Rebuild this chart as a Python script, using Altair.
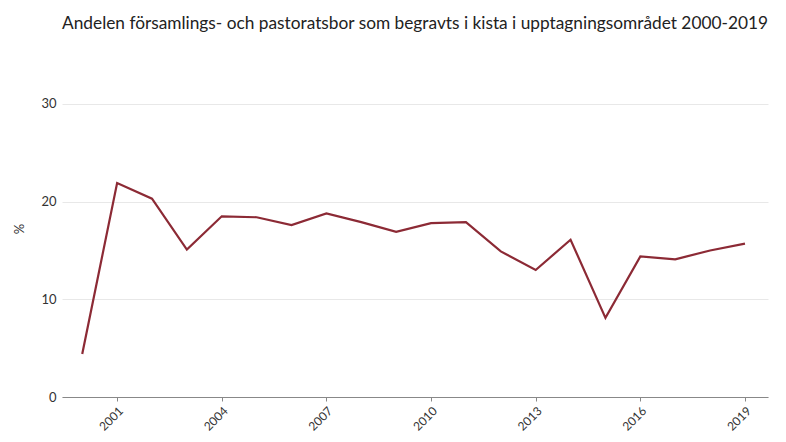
import altair as alt
import pandas as pd

years = list(range(2000, 2020))
values = [4.4, 21.9, 20.3, 15.1, 18.5, 18.4, 17.6, 18.8, 17.9, 16.9,
          17.8, 17.9, 14.9, 13.0, 16.1, 8.1, 14.4, 14.1, 15.0, 15.7]
tick_years = [2001, 2004, 2007, 2010, 2013, 2016, 2019]
y_ticks = [0, 10, 20, 30]
title_text = "Andelen församlings- och pastoratsbor som begravts i kista i upptagningsområdet 2000-2019"

df = pd.DataFrame({"year": years, "value": values})

FONT = "Lato"

chart = alt.Chart(df).mark_line(color="#8c2a35", strokeWidth=2.2).encode(
    x=alt.X("year:Q",
            scale=alt.Scale(domain=[1999.42, 2019.66], nice=False, zero=False),
            axis=alt.Axis(values=tick_years, format="d", title=None, labelAngle=-45,
                          grid=False, domainColor="#888888", tickColor="#888888",
                          tickSize=4, labelFontSize=12, labelColor="#333333",
                          labelFont=FONT, labelPadding=4)),
    y=alt.Y("value:Q",
            scale=alt.Scale(domain=[0, 34.5], nice=False),
            axis=alt.Axis(values=y_ticks, title="%", domain=False, ticks=False,
                          gridColor="#e8e8e8", labelFontSize=13, labelColor="#333333",
                          labelFont=FONT, labelPadding=6, titleFont=FONT,
                          titleFontSize=13, titleFontWeight="normal", titleColor="#333333",
                          titlePadding=14)),
).properties(
    width=706, height=337,
    title=alt.TitleParams(title_text, font=FONT, fontSize=17.3, fontWeight="normal",
                          color="#222222", anchor="middle", offset=28),
    autosize=alt.AutoSizeParams(type="none"),
    padding={"left": 54, "top": 52, "right": 10, "bottom": 37},
).configure_view(stroke=None)

chart.save("out.html", embed_options={"renderer": "svg", "actions": False})
